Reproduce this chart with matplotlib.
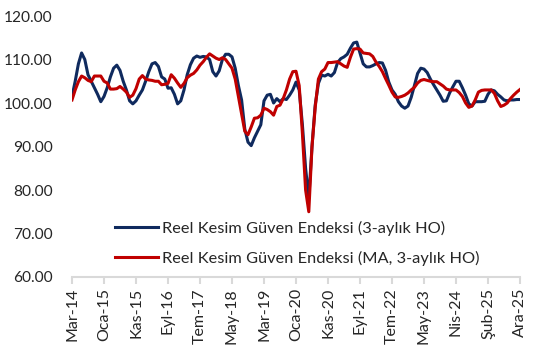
import numpy as np
import matplotlib.pyplot as plt

# Reel Kesim Guven Endeksi, monthly, Mar-14 .. Ara-25 (141 points)
rkge = [101.5, 105, 109, 111.5, 110, 106.5, 105, 103.5, 102, 100.3,
        101.5, 103.5, 106, 108, 108.7, 107.5, 105, 103, 100.5, 99.8,
        100.5, 101.8, 103, 105, 107.2, 109, 109.3, 108.4, 106, 105.5,
        103.4, 103.5, 102, 99.8, 100.5, 103, 106.5, 108.8, 110.3, 110.8,
        110.5, 110.7, 110.6, 110, 107.2, 106.2, 107.4, 110, 111.2, 111.2,
        110.6, 108, 104, 100.7, 94, 91, 90.2, 92, 93.5, 95,
        100.5, 101.8, 102, 100, 101, 100.3, 101, 100.8, 101.8, 103,
        104.8, 103, 95, 85, 78, 90, 99.5, 104.5, 106.4, 106.2,
        106.6, 106.2, 107, 109.3, 110.2, 110.6, 111.2, 112.6, 113.8, 114,
        111.5, 109, 108.3, 108.3, 108.6, 109, 109.3, 109.2, 107.5, 104.8,
        103, 102, 100.3, 99.3, 98.8, 99.3, 101.3, 104, 106.8, 108,
        107.8, 107, 105.5, 104.2, 103, 101.8, 100.4, 100.5, 102.3, 103.7,
        105, 105, 103.5, 101.8, 99.8, 99.3, 100.3, 100.3, 100.3, 100.4,
        102, 103, 102.8, 102, 101.4, 100.7, 100.5, 100.7, 100.7, 100.8,
        100.8]

rkge_ma = [100.7, 103, 104.9, 106.2, 105.8, 105.2, 104.9, 106.2, 106.2, 106.2,
           105, 104.6, 103.2, 103.2, 103.3, 103.8, 103.2, 102.5, 101.3, 101.8,
           103.3, 105.5, 106.3, 105.5, 105.3, 105.2, 105, 105, 104.2, 104.3,
           104.5, 106.5, 105.7, 104.6, 103.6, 104.5, 105.8, 106.4, 106.8, 107.6,
           108.7, 109.5, 110.5, 111.3, 110.8, 110.3, 110, 110.4, 110, 109,
           108, 105.5, 101.5, 97.6, 93.5, 92.7, 94.5, 96.5, 96.6, 97.2,
           98.8, 98.5, 98, 97.2, 99.2, 99.5, 101, 103, 105.5, 107.2,
           107.3, 104, 93, 80, 75, 90, 99, 105.5, 107.2, 107.8,
           109.3, 109.3, 109.4, 109.5, 109, 108.5, 108.2, 110.5, 112.4, 112.5,
           112.4, 111.5, 111.4, 111.3, 110.7, 109.4, 108.4, 107.2, 105.6, 104.1,
           102.5, 101.4, 101.3, 101.5, 101.8, 102.3, 103, 103.6, 104.6, 105.2,
           105.4, 105.2, 105, 104.9, 104.9, 104.4, 103.9, 103.2, 103, 103,
           103, 102.4, 101.5, 100, 99, 99.3, 100.7, 102.5, 102.9, 103,
           103, 103, 102.2, 100.5, 99.2, 99.5, 100, 101, 101.8, 102.5,
           103.1]

tick_labels = ['Mar-14', 'Oca-15', 'Kas-15', 'Eyl-16', 'Tem-17', 'May-18',
               'Mar-19', 'Oca-20', 'Kas-20', 'Eyl-21', 'Tem-22', 'May-23',
               'Nis-24', 'Şub-25', 'Ara-25']
y_ticks = [60, 70, 80, 90, 100, 110, 120]

plt.rcParams['font.family'] = ['Lato', 'DejaVu Sans']

fig = plt.figure(figsize=(5.56, 3.56), dpi=100)
ax = fig.add_axes([72 / 556, 1 - 277 / 356, 448 / 556, 261 / 356])

x = np.arange(len(rkge))
ax.plot(x, rkge, color='#0f2a5e', lw=2.2,
        label='Reel Kesim Güven Endeksi (3-aylık HO)')
ax.plot(x, rkge_ma, color='#c00000', lw=2.2,
        label='Reel Kesim Güven Endeksi (MA, 3-aylık HO)')

ax.set_xlim(0, len(rkge) - 1)
ax.set_ylim(60, 120)
ax.set_xticks(np.arange(0, len(rkge), 10))
ax.set_xticklabels(tick_labels, rotation=90, fontsize=11.5, color='#262626')
ax.set_yticks(y_ticks)
ax.set_yticklabels([f'{v:.2f}' for v in y_ticks], fontsize=11.2, color='#262626')

for side in ['top', 'right', 'left']:
    ax.spines[side].set_visible(False)
ax.spines['bottom'].set_color('#d9d9d9')
ax.spines['bottom'].set_linewidth(1.5)
ax.tick_params(axis='x', direction='out', length=5, width=1.5, color='#d9d9d9', pad=3)
ax.tick_params(axis='y', length=0, pad=14)

ax.legend(loc='center left', bbox_to_anchor=(0.078, 0.13), frameon=False,
          fontsize=11.8, handlelength=2.6, handletextpad=0.25,
          labelspacing=0.9, borderpad=0, labelcolor='#262626')

fig.savefig('out.png', dpi=100)
